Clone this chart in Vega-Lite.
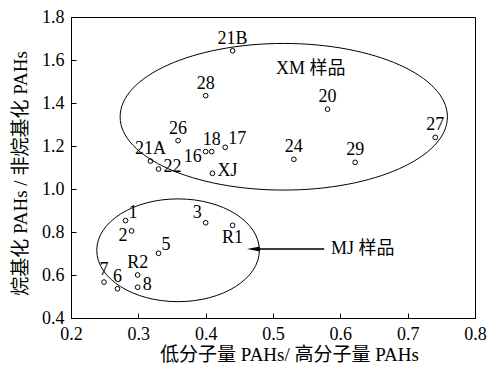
{
  "$schema": "https://vega.github.io/schema/vega-lite/v6.json",
  "width": 404,
  "height": 301,
  "autosize": {"type": "none"},
  "padding": {"left": 71, "top": 17, "right": 15, "bottom": 51},
  "background": "white",
  "config": {
    "font": "'Liberation Serif', 'Times New Roman', 'Noto Sans CJK SC', serif",
    "view": {"stroke": "black", "strokeWidth": 1},
    "axis": {
      "grid": false,
      "domainColor": "black",
      "tickColor": "black",
      "tickSize": -5,
      "labelFlush": false,
      "labelFont": "'Liberation Serif', 'Times New Roman', serif",
      "labelFontSize": 18,
      "labelColor": "black",
      "titleFont": "'Liberation Serif', 'Times New Roman', 'Noto Sans CJK SC', serif",
      "titleFontSize": 19,
      "titleFontWeight": "normal",
      "titleColor": "black"
    }
  },
  "datasets": {
    "pts": [
      {"x": 0.440, "y": 1.643, "label": "21B", "pos": "top"},
      {"x": 0.400, "y": 1.434, "label": "28", "pos": "top"},
      {"x": 0.581, "y": 1.371, "label": "20", "pos": "top"},
      {"x": 0.741, "y": 1.240, "label": "27", "pos": "top"},
      {"x": 0.359, "y": 1.225, "label": "26", "pos": "top"},
      {"x": 0.400, "y": 1.174, "label": "16", "pos": "left"},
      {"x": 0.409, "y": 1.174, "label": "18", "pos": "top"},
      {"x": 0.429, "y": 1.194, "label": "17", "pos": "topright"},
      {"x": 0.318, "y": 1.130, "label": "21A", "pos": "top"},
      {"x": 0.330, "y": 1.093, "label": "22", "pos": "right"},
      {"x": 0.410, "y": 1.073, "label": "XJ", "pos": "right"},
      {"x": 0.531, "y": 1.138, "label": "24", "pos": "top"},
      {"x": 0.622, "y": 1.124, "label": "29", "pos": "top"},
      {"x": 0.281, "y": 0.853, "label": "1", "pos": "topright"},
      {"x": 0.290, "y": 0.805, "label": "2", "pos": "left"},
      {"x": 0.400, "y": 0.843, "label": "3", "pos": "topleft"},
      {"x": 0.440, "y": 0.831, "label": "R1", "pos": "bottom"},
      {"x": 0.330, "y": 0.701, "label": "5", "pos": "topright"},
      {"x": 0.299, "y": 0.600, "label": "R2", "pos": "top"},
      {"x": 0.249, "y": 0.567, "label": "7", "pos": "top"},
      {"x": 0.269, "y": 0.536, "label": "6", "pos": "top"},
      {"x": 0.299, "y": 0.543, "label": "8", "pos": "right"}
    ],
    "groups": [
      {"cx": 0.516, "cy": 1.336, "group": "XM"},
      {"cx": 0.359, "cy": 0.715, "group": "MJ"}
    ],
    "notes": [
      {"x": 0.556, "y": 1.558, "text": "XM 样品", "kind": "xm"},
      {"x": 0.586, "y": 0.721, "text": "MJ 样品", "kind": "mj"}
    ],
    "arrow": [
      {"x": 0.471, "x2": 0.576, "y": 0.721}
    ]
  },
  "layer": [
    {
      "mark": {"type": "rule", "color": "#555555", "strokeWidth": 1, "strokeDash": [1, 1]},
      "encoding": {
        "y": {"datum": 1.0, "type": "quantitative", "scale": {"domain": [0.4, 1.8]},
          "axis": {"values": [0.4, 0.6, 0.8, 1.0, 1.2, 1.4, 1.6, 1.8], "format": ".1f", "title": "烷基化 PAHs / 非烷基化 PAHs", "titleX": -51, "titleY": 156, "titleBaseline": "middle", "titleAnchor": "middle", "labelPadding": 12}}
      }
    },
    {
      "data": {"name": "groups"},
      "transform": [{"filter": "datum.group === 'XM'"}],
      "mark": {"type": "point", "filled": false, "stroke": "black", "strokeWidth": 1, "opacity": 1, "size": 107125,
        "shape": "M -1 0 C -1 -0.2474 -0.5523 -0.448 0 -0.448 C 0.5523 -0.448 1 -0.2474 1 0 C 1 0.2474 0.5523 0.448 0 0.448 C -0.5523 0.448 -1 0.2474 -1 0 Z"},
      "encoding": {
        "x": {"field": "cx", "type": "quantitative", "scale": {"domain": [0.2, 0.8]},
          "axis": {"values": [0.2, 0.3, 0.4, 0.5, 0.6, 0.7, 0.8], "format": ".1f", "title": "低分子量 PAHs/ 高分子量 PAHs", "titleX": 218, "titleY": 36, "titleBaseline": "middle", "titleAnchor": "middle", "labelPadding": 12}},
        "y": {"field": "cy", "type": "quantitative"}
      }
    },
    {
      "data": {"name": "groups"},
      "transform": [{"filter": "datum.group === 'MJ'"}],
      "mark": {"type": "point", "filled": false, "stroke": "black", "strokeWidth": 1, "opacity": 1, "size": 26439,
        "shape": "M -1 0 C -1 -0.349 -0.5523 -0.632 0 -0.632 C 0.5523 -0.632 1 -0.349 1 0 C 1 0.349 0.5523 0.632 0 0.632 C -0.5523 0.632 -1 0.349 -1 0 Z"},
      "encoding": {
        "x": {"field": "cx", "type": "quantitative"},
        "y": {"field": "cy", "type": "quantitative"}
      }
    },
    {
      "data": {"name": "arrow"},
      "mark": {"type": "rule", "color": "black", "strokeWidth": 1.5},
      "encoding": {
        "x": {"field": "x", "type": "quantitative"},
        "x2": {"field": "x2"},
        "y": {"field": "y", "type": "quantitative"}
      }
    },
    {
      "data": {"name": "arrow"},
      "mark": {"type": "point", "filled": true, "color": "black", "opacity": 1, "size": 169, "shape": "M -1 0 L 1 -0.4 L 1 0.4 Z"},
      "encoding": {
        "x": {"field": "x", "type": "quantitative"},
        "y": {"field": "y", "type": "quantitative"}
      }
    },
    {
      "data": {"name": "pts"},
      "mark": {"type": "point", "filled": false, "stroke": "black", "strokeWidth": 1, "opacity": 1, "size": 22, "shape": "circle"},
      "encoding": {
        "x": {"field": "x", "type": "quantitative"},
        "y": {"field": "y", "type": "quantitative"}
      }
    },
    {
      "data": {"name": "pts"},
      "transform": [{"filter": "datum.pos === 'top'"}],
      "mark": {"type": "text", "fontSize": 18, "color": "black", "align": "center", "baseline": "middle", "dy": -12},
      "encoding": {"x": {"field": "x", "type": "quantitative"}, "y": {"field": "y", "type": "quantitative"}, "text": {"field": "label"}}
    },
    {
      "data": {"name": "pts"},
      "transform": [{"filter": "datum.pos === 'right'"}],
      "mark": {"type": "text", "fontSize": 18, "color": "black", "align": "left", "baseline": "middle", "dx": 5, "dy": -2},
      "encoding": {"x": {"field": "x", "type": "quantitative"}, "y": {"field": "y", "type": "quantitative"}, "text": {"field": "label"}}
    },
    {
      "data": {"name": "pts"},
      "transform": [{"filter": "datum.pos === 'topright'"}],
      "mark": {"type": "text", "fontSize": 18, "color": "black", "align": "left", "baseline": "middle", "dx": 3, "dy": -8},
      "encoding": {"x": {"field": "x", "type": "quantitative"}, "y": {"field": "y", "type": "quantitative"}, "text": {"field": "label"}}
    },
    {
      "data": {"name": "pts"},
      "transform": [{"filter": "datum.pos === 'left'"}],
      "mark": {"type": "text", "fontSize": 18, "color": "black", "align": "right", "baseline": "middle", "dx": -4, "dy": 5},
      "encoding": {"x": {"field": "x", "type": "quantitative"}, "y": {"field": "y", "type": "quantitative"}, "text": {"field": "label"}}
    },
    {
      "data": {"name": "pts"},
      "transform": [{"filter": "datum.pos === 'topleft'"}],
      "mark": {"type": "text", "fontSize": 18, "color": "black", "align": "right", "baseline": "middle", "dx": -4, "dy": -10},
      "encoding": {"x": {"field": "x", "type": "quantitative"}, "y": {"field": "y", "type": "quantitative"}, "text": {"field": "label"}}
    },
    {
      "data": {"name": "pts"},
      "transform": [{"filter": "datum.pos === 'bottom'"}],
      "mark": {"type": "text", "fontSize": 18, "color": "black", "align": "center", "baseline": "middle", "dy": 13},
      "encoding": {"x": {"field": "x", "type": "quantitative"}, "y": {"field": "y", "type": "quantitative"}, "text": {"field": "label"}}
    },
    {
      "data": {"name": "notes"},
      "transform": [{"filter": "datum.kind === 'xm'"}],
      "mark": {"type": "text", "fontSize": 18, "color": "black", "align": "center", "baseline": "middle"},
      "encoding": {"x": {"field": "x", "type": "quantitative"}, "y": {"field": "y", "type": "quantitative"}, "text": {"field": "text"}}
    },
    {
      "data": {"name": "notes"},
      "transform": [{"filter": "datum.kind === 'mj'"}],
      "mark": {"type": "text", "fontSize": 18, "color": "black", "align": "left", "baseline": "middle"},
      "encoding": {"x": {"field": "x", "type": "quantitative"}, "y": {"field": "y", "type": "quantitative"}, "text": {"field": "text"}}
    }
  ]
}
